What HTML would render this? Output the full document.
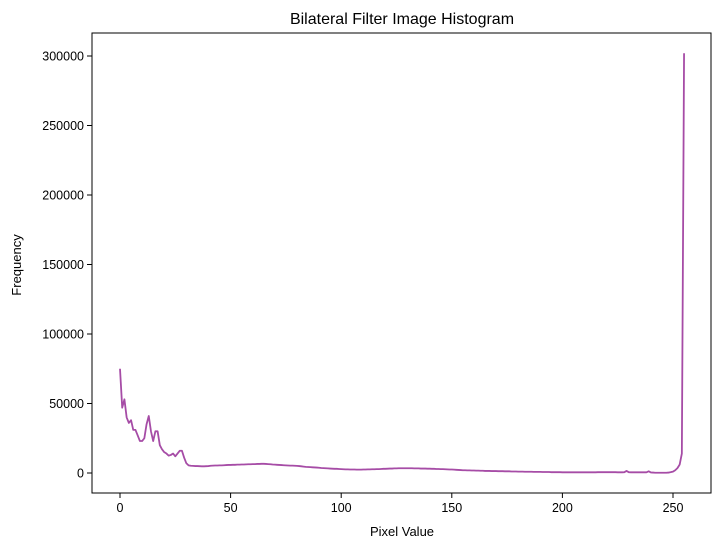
<!DOCTYPE html>
<html><head><meta charset="utf-8"><style>
html,body{margin:0;padding:0;background:#fff}
svg{display:block;font-family:"Liberation Sans","DejaVu Sans",sans-serif}
</style></head><body>
<svg id="chart" width="721" height="547" viewBox="0 0 721 547" xmlns="http://www.w3.org/2000/svg">
<rect width="721" height="547" fill="#fff"/>
<text x="402" y="24" text-anchor="middle" font-size="16">Bilateral Filter Image Histogram</text>
<text x="402" y="536" text-anchor="middle" font-size="13">Pixel Value</text>
<text transform="translate(21,265) rotate(-90)" text-anchor="middle" font-size="13">Frequency</text>
<g id="ticks"></g>
<path id="line" fill="none" stroke="#800080" stroke-opacity="0.7" stroke-width="1.8" stroke-linejoin="round"/>
<rect x="92" y="33" width="619" height="460" fill="none" stroke="#000" stroke-width="1"/>
</svg>
<script>
const xTicks=[0,50,100,150,200,250];
const yTicks=[0,50000,100000,150000,200000,250000,300000];
const freqK=[75,47,53,40,36,38,31,31,27,23,23,25,35,41,30,23,30,30,20,17,15,14,12.5,13,14,12,14,16,16,11,7,5.5,
5.2,5.1,5.0,5.0,4.9,4.8,4.8,4.9,5.0,5.2,5.3,5.4,5.4,5.5,5.5,5.6,5.7,5.8,
5.8,5.9,5.9,6.0,6.0,6.1,6.1,6.2,6.3,6.3,6.4,6.4,6.5,6.5,6.6,6.6,6.5,6.4,6.3,6.1,
6.0,5.9,5.8,5.7,5.6,5.5,5.4,5.3,5.3,5.2,5.1,5.0,4.8,4.6,4.4,4.3,4.2,4.1,4.0,3.9,
3.8,3.6,3.5,3.4,3.3,3.2,3.1,3.0,3.0,2.9,2.8,2.7,2.6,2.6,2.5,2.5,2.5,2.4,2.4,2.4,
2.5,2.5,2.6,2.6,2.7,2.7,2.8,2.8,2.9,3.0,3.0,3.1,3.2,3.2,3.3,3.3,3.4,3.4,3.4,3.4,
3.4,3.4,3.4,3.3,3.3,3.3,3.2,3.2,3.2,3.1,3.1,3.0,3.0,2.9,2.9,2.8,2.8,2.7,2.6,2.5,
2.5,2.4,2.3,2.2,2.1,2.0,2.0,1.9,1.9,1.8,1.8,1.7,1.7,1.6,1.6,1.5,1.5,1.5,1.4,1.4,
1.4,1.3,1.3,1.3,1.2,1.2,1.2,1.1,1.1,1.1,1.0,1.0,1.0,0.9,0.9,0.9,0.9,0.8,0.8,0.8,
0.8,0.7,0.7,0.7,0.7,0.6,0.6,0.6,0.6,0.6,0.5,0.5,0.5,0.5,0.5,0.5,0.5,0.5,0.5,0.5,
0.5,0.5,0.5,0.5,0.5,0.5,0.6,0.6,0.6,0.6,0.6,0.6,0.6,0.6,0.6,0.5,0.5,0.5,0.6,1.5,
0.6,0.5,0.5,0.5,0.5,0.5,0.5,0.5,0.5,1.2,0.4,0.3,0.2,0.2,0.2,0.2,0.2,0.2,0.3,0.6,
1.0,2.0,3.5,6,14,302];
const NS='http://www.w3.org/2000/svg';
const xs=v=>120+v*(673-120)/250;
const ys=v=>473-v*(473-56)/300000;
const g=document.getElementById('ticks');
xTicks.forEach(t=>{
  const l=document.createElementNS(NS,'line');
  
  
  l.setAttribute('x1',xs(t));l.setAttribute('x2',xs(t));l.setAttribute('y1',493);l.setAttribute('y2',498);l.setAttribute('stroke','#000');
  g.appendChild(l);
  const tx=document.createElementNS(NS,'text');
  
  
  tx.setAttribute('x',xs(t));tx.setAttribute('y',512);tx.setAttribute('text-anchor','middle');tx.setAttribute('font-size','12.5');
  tx.textContent=t;g.appendChild(tx);
});
yTicks.forEach(t=>{
  const l=document.createElementNS(NS,'line');
  
  
  l.setAttribute('x1',87);l.setAttribute('x2',92);l.setAttribute('y1',ys(t));l.setAttribute('y2',ys(t));l.setAttribute('stroke','#000');
  g.appendChild(l);
  const tx=document.createElementNS(NS,'text');
  
  
  tx.setAttribute('x',84);tx.setAttribute('y',ys(t)+4.5);tx.setAttribute('text-anchor','end');tx.setAttribute('font-size','12.5');
  tx.textContent=t;g.appendChild(tx);
});
document.getElementById('line').setAttribute('d',freqK.map((v,i)=>(i?'L':'M')+xs(i).toFixed(2)+','+ys(v*1000).toFixed(2)).join(''));
</script>
</body></html>
